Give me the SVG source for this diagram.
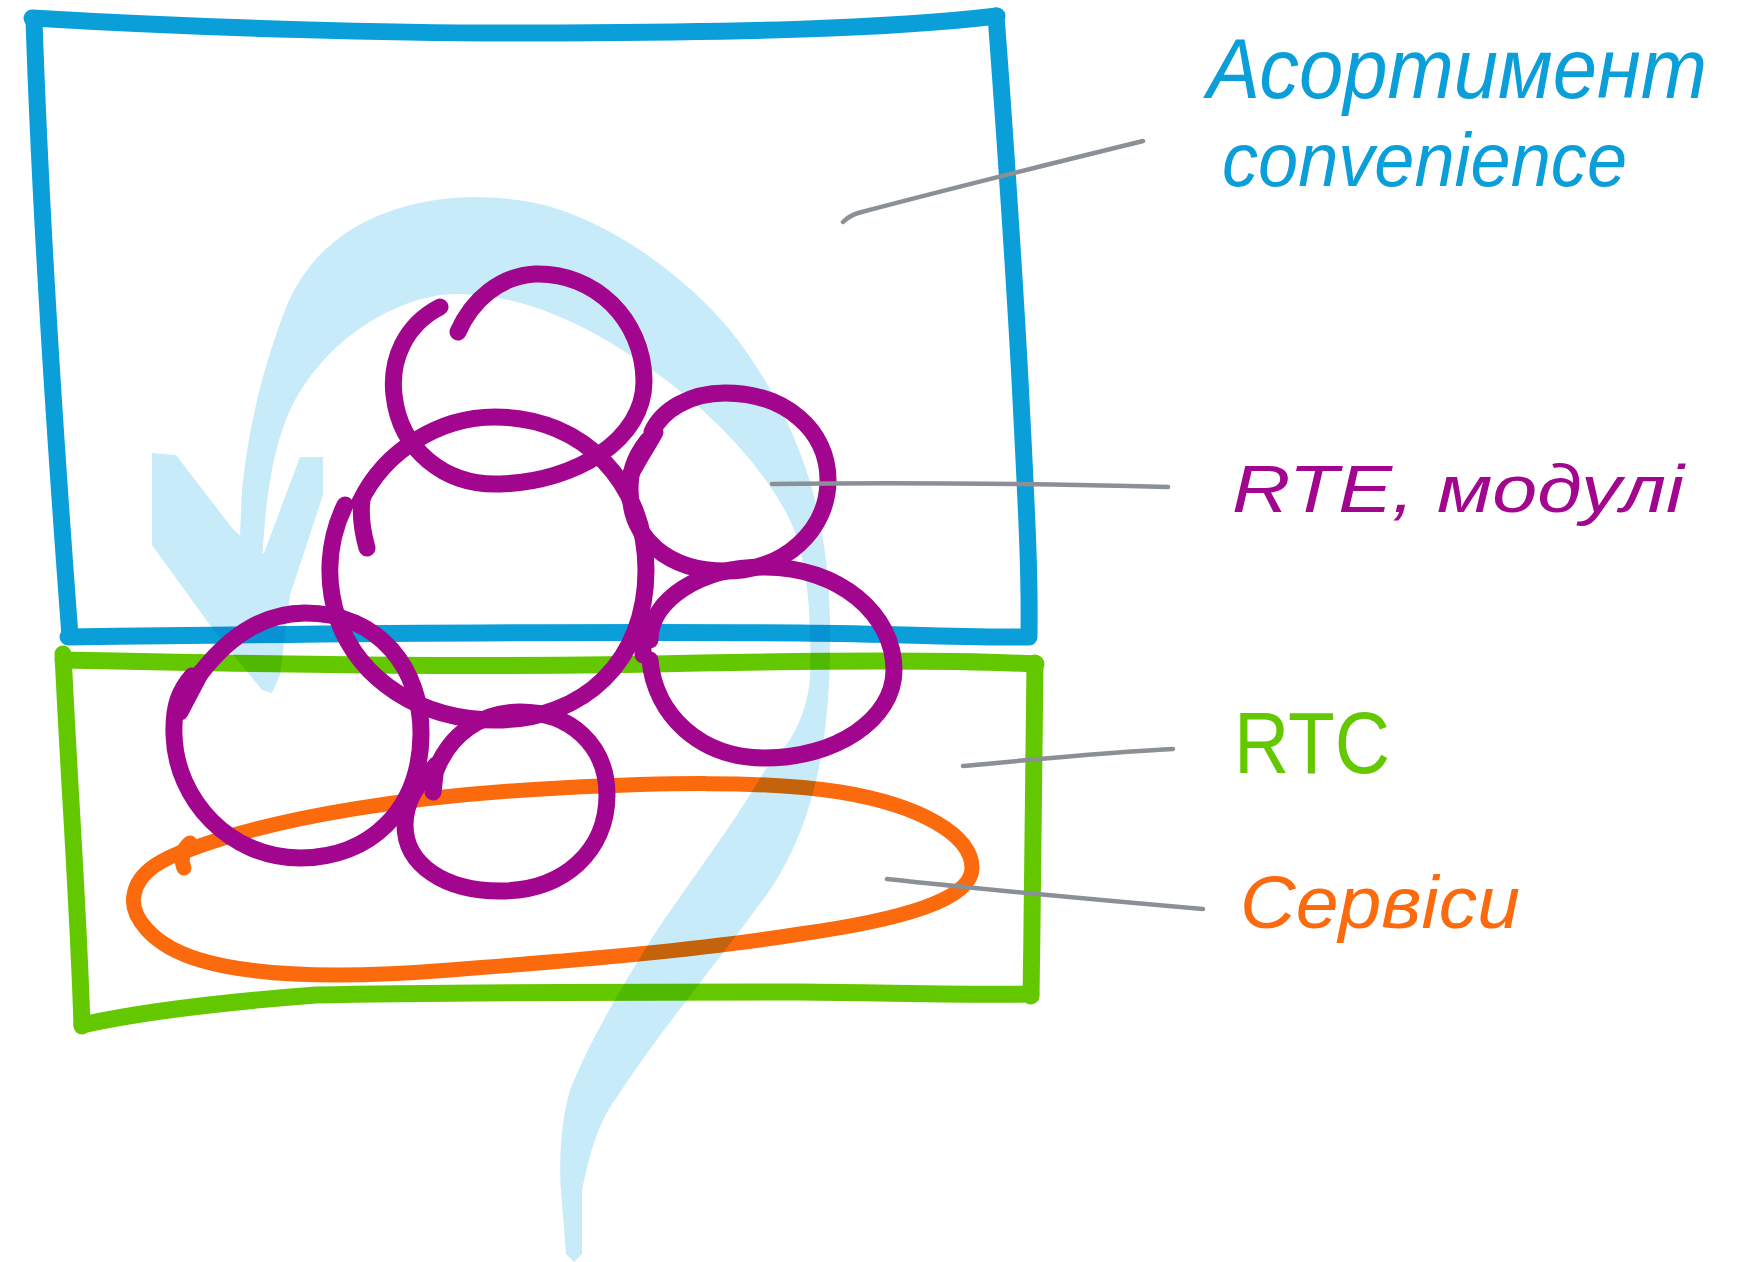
<svg xmlns="http://www.w3.org/2000/svg" width="1763" height="1262" viewBox="0 0 1763 1262">
  <style>
    .ink{fill:none;stroke-linecap:round;stroke-linejoin:round}
    .blue{stroke:#0a9fd8;stroke-width:17}
    .green{stroke:#64c800;stroke-width:17}
    .purple{stroke:#a2058e;stroke-width:17}
    .orange{stroke:#fb6a0c;stroke-width:15}
    .leader{fill:none;stroke:#8a9096;stroke-width:4.5;stroke-linecap:round}
    .lbl{font-family:"Liberation Sans",Arial,sans-serif;font-weight:400}
  </style>

  <rect width="1763" height="1262" fill="#ffffff"/>

  <!-- upper layer: assortment box -->
  <g id="assortment-box" class="ink blue">
    <path d="M32,18 C200,28 400,34 560,33 C720,32 880,30 997,16"/>
    <path d="M34,20 C40,200 56,450 70,636"/>
    <path d="M996,16 C1004,120 1016,300 1021,400 C1026,500 1030,570 1029,634"/>
    <path d="M68,637 C300,634 560,631 800,633 C900,634 980,638 1029,637"/>
  </g>

  <!-- lower layer: RTC box -->
  <g id="rtc-box" class="ink green">
    <path d="M63,660 C300,665 500,668 700,663 C850,660 960,660 1036,664"/>
    <path d="M63,654 C70,800 78,900 82,1026"/>
    <path d="M82,1025 C150,1010 250,1000 316,995 C450,992 650,992 800,992 C900,993 980,995 1031,994"/>
    <path d="M1035,663 C1033,760 1033,880 1031,996"/>
  </g>

  <!-- services -->
  <g id="services" class="ink orange">
    <path d="M186,851 C280,815 420,795 560,788 C660,783 760,780 840,792 C920,805 972,835 972,868 C972,900 900,920 800,934 C700,950 580,960 450,970 C350,978 260,978 200,960 C150,945 130,915 134,895 C138,870 165,858 192,848"/>
    <path d="M184,868 C180,858 182,850 190,843"/>
  </g>

  <!-- translucent flow arrow, multiplied over the layers below it -->
  <g id="flow-arrow" fill="#c8ebfa" style="mix-blend-mode:multiply">
    <path d="M582,1254 L582,1191 C590,1150 600,1120 615,1100 C660,1030 720,960 770,890 C810,830 825,760 829,684 C832,620 830,560 815,500 C800,440 770,380 730,330 C680,270 600,215 530,202 C480,193 430,196 385,213 C340,230 305,260 285,310 C262,370 248,430 242,490 L240,535 L246,560 L262,560 L265,520 C270,470 280,420 303,387 C330,345 380,305 440,295 C500,288 570,315 630,355 C700,400 760,460 790,520 C808,560 812,620 810,680 C805,720 790,745 765,770 C730,830 690,880 652,938 C620,990 590,1040 570,1090 C558,1130 560,1180 561,1191 L566,1254 L574,1262 Z"/>
    <path d="M152,453 L176,455 L232,528 L258,553 L264,553 L300,457 L323,457 L323,495 L290,595 L280,675 L272,693 L262,690 L215,632 L152,545 Z"/>
  </g>

  <!-- RTE modules -->
  <g id="modules" class="ink purple">
    <g id="module-a">
      <path d="M440,307 C405,325 390,360 394,395 C400,450 445,486 500,484 C575,482 645,440 644,380 C643,320 595,272 535,274 C500,276 472,300 458,332"/>
    </g>
    <g id="module-b">
      <path d="M360,502 C385,450 440,417 495,417 C585,417 646,485 646,570 C646,660 585,720 495,720 C420,720 360,680 338,620 C325,580 328,540 345,505"/>
      <path d="M367,548 C362,530 360,515 362,500"/>
    </g>
    <g id="module-c">
      <path d="M648,440 C632,460 630,475 630,490 C630,540 670,571 725,571 C785,571 828,530 828,480 C828,430 785,393 725,393 C690,393 662,410 652,432"/>
      <path d="M655,432 C645,450 633,468 628,480"/>
    </g>
    <g id="module-d">
      <path d="M650,640 C650,600 700,567 765,567 C840,567 894,615 894,670 C894,720 835,758 765,758 C700,758 655,715 650,660"/>
      <path d="M643,622 L643,655"/>
    </g>
    <g id="module-e">
      <path d="M200,674 C230,635 265,613 305,613 C380,613 422,670 421,735 C420,810 370,858 300,858 C230,858 176,800 174,735 C173,705 180,690 192,676"/>
      <path d="M201,672 L180,712"/>
    </g>
    <g id="module-f">
      <path d="M436,766 C420,780 405,800 405,825 C405,865 445,891 500,891 C565,891 607,850 607,795 C607,745 570,712 520,712 C480,712 450,735 436,770"/>
      <path d="M433,792 L436,765"/>
    </g>
  </g>

  <!-- leader lines from the layers to their labels -->
  <g id="connectors">
    <path class="leader" d="M843,222 C848,217 852,215 858,213 C960,186 1050,164 1143,141"/>
    <path class="leader" d="M772,484 C900,482 1050,484 1168,487"/>
    <path class="leader" d="M963,766 C1050,758 1110,752 1173,749"/>
    <path class="leader" d="M887,879 C990,890 1100,900 1203,909"/>
  </g>

  <!-- labels -->
  <g id="label-assortment" class="lbl" fill="#0a9fd8">
    <text x="1207" y="98" font-size="86" font-style="italic" textLength="500" lengthAdjust="spacingAndGlyphs">Асортимент</text>
    <text x="1222" y="186" font-size="76" font-style="italic" textLength="405" lengthAdjust="spacingAndGlyphs">convenience</text>
  </g>
  <g id="label-rte" class="lbl" fill="#a2058e">
    <text x="1232" y="512" font-size="66" font-style="italic" textLength="452" lengthAdjust="spacingAndGlyphs">RTE, модулі</text>
  </g>
  <g id="label-rtc" class="lbl" fill="#64c800">
    <text x="1234" y="773" font-size="88" textLength="156" lengthAdjust="spacingAndGlyphs">RTC</text>
  </g>
  <g id="label-services" class="lbl" fill="#fb6a0c">
    <text x="1240" y="928" font-size="74" font-style="italic" textLength="280" lengthAdjust="spacingAndGlyphs">Сервіси</text>
  </g>
</svg>
